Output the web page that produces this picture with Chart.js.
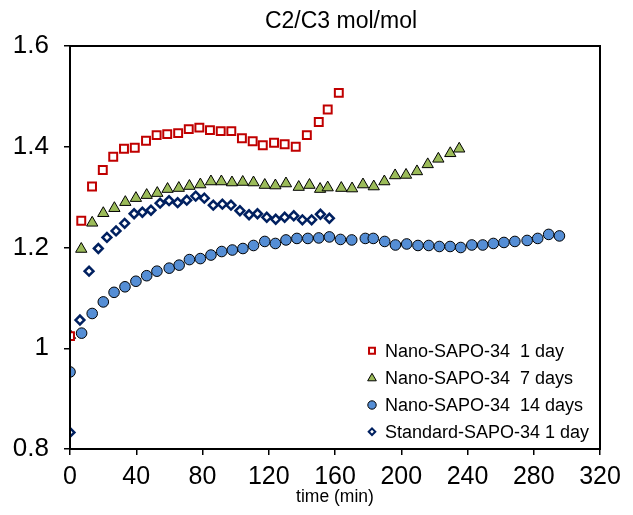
<!DOCTYPE html>
<html>
<head>
<meta charset="utf-8">
<script src="https://cdn.jsdelivr.net/npm/chart.js@4.4.1/dist/chart.umd.min.js"></script>
<style>
  html, body { margin: 0; padding: 0; background: #ffffff; }
  #wrap { width: 633px; height: 515px; position: relative; }
</style>
</head>
<body>
<div id="wrap"><canvas id="c" width="633" height="515"></canvas></div>
<script>
// ---- data ----
const chartTitle = "C2/C3 mol/mol";
const xAxisTitle = "time (min)";
const xTicks = [0, 40, 80, 120, 160, 200, 240, 280, 320];
const yTicks = [0.8, 1.0, 1.2, 1.4, 1.6];

const seriesNames = [
  "Nano-SAPO-34  1 day",
  "Nano-SAPO-34  7 days",
  "Nano-SAPO-34  14 days",
  "Standard-SAPO-34 1 day"
];

const nano1Time = [0, 6.8, 13.3, 19.8, 26.1, 32.6, 39.1, 45.9, 52.3, 58.7, 65.3, 71.7, 78.1, 84.5, 91.0, 97.4, 103.8, 110.3, 116.4, 123.2, 129.6, 136.3, 143.0, 150.2, 155.6, 162.3];
const nano1Value = [1.024, 1.253, 1.321, 1.354, 1.380, 1.396, 1.398, 1.412, 1.423, 1.425, 1.427, 1.435, 1.438, 1.433, 1.431, 1.431, 1.417, 1.411, 1.403, 1.408, 1.405, 1.400, 1.423, 1.449, 1.474, 1.507];

const nano7Time = [0, 6.8, 13.4, 20.1, 26.8, 33.4, 39.8, 46.3, 52.7, 58.9, 65.7, 72.1, 78.7, 85.1, 91.4, 97.8, 104.3, 110.8, 117.6, 124.0, 130.4, 138.1, 144.6, 151.0, 155.6, 163.8, 170.3, 176.9, 183.4, 189.8, 196.3, 202.9, 209.5, 216.0, 222.4, 229.6, 235.0];
const nano7Value = [1.026, 1.197, 1.249, 1.268, 1.278, 1.290, 1.298, 1.304, 1.308, 1.316, 1.318, 1.322, 1.325, 1.331, 1.331, 1.329, 1.330, 1.329, 1.324, 1.323, 1.327, 1.320, 1.324, 1.316, 1.319, 1.318, 1.317, 1.325, 1.321, 1.331, 1.343, 1.344, 1.351, 1.365, 1.376, 1.387, 1.396];

const nano14Time = [0, 7.0, 13.4, 20.1, 26.6, 33.2, 39.8, 46.3, 52.5, 59.9, 65.9, 72.1, 78.7, 85.1, 91.6, 98.0, 104.4, 110.8, 117.6, 124.0, 130.4, 137.0, 143.6, 150.2, 156.6, 163.3, 170.1, 178.3, 183.1, 190.0, 196.5, 203.3, 210.1, 216.6, 223.0, 229.5, 235.9, 242.6, 249.2, 255.6, 262.0, 268.6, 276.0, 282.4, 289.0, 295.5];
const nano14Value = [0.953, 1.030, 1.069, 1.092, 1.111, 1.122, 1.133, 1.144, 1.153, 1.159, 1.165, 1.176, 1.178, 1.185, 1.192, 1.195, 1.198, 1.204, 1.212, 1.208, 1.215, 1.218, 1.218, 1.219, 1.221, 1.216, 1.215, 1.218, 1.218, 1.212, 1.205, 1.207, 1.204, 1.204, 1.202, 1.202, 1.200, 1.205, 1.205, 1.208, 1.210, 1.212, 1.214, 1.218, 1.226, 1.223];

const stdTime = [0, 6.0, 11.5, 17.1, 22.3, 27.8, 33.0, 38.7, 43.7, 48.9, 54.4, 59.8, 65.0, 70.5, 75.9, 81.1, 86.5, 92.0, 97.2, 102.6, 108.1, 113.2, 118.8, 124.2, 129.6, 135.1, 140.3, 145.9, 151.2, 156.6];
const stdValue = [0.833, 1.056, 1.153, 1.198, 1.220, 1.233, 1.248, 1.267, 1.270, 1.274, 1.288, 1.293, 1.289, 1.294, 1.302, 1.298, 1.284, 1.286, 1.284, 1.273, 1.265, 1.267, 1.260, 1.256, 1.260, 1.263, 1.255, 1.255, 1.266, 1.258];

// ---- build ----
const FONT = "'Liberation Sans', Arial, Helvetica, sans-serif";
function pts(t, v) { return t.map((x, i) => ({ x: x, y: v[i] })); }

const styles = [
  { pointStyle: 'rect', radius: 5.6, borderWidth: 2, borderColor: '#C00000', backgroundColor: '#FFFFFF', lr: 4.2, lbw: 2 },
  { pointStyle: 'triangle', radius: 6.5, borderWidth: 1, borderColor: '#000000', backgroundColor: '#9BBB59', lr: 5, lbw: 1 },
  { pointStyle: 'circle', radius: 5.3, borderWidth: 1, borderColor: '#000000', backgroundColor: '#558ED5', lr: 4.2, lbw: 1 },
  { pointStyle: 'rectRot', radius: 4.4, borderWidth: 2.5, borderColor: '#002060', backgroundColor: '#FFFFFF', lr: 3.3, lbw: 2 }
];
const seriesData = [pts(nano1Time, nano1Value), pts(nano7Time, nano7Value), pts(nano14Time, nano14Value), pts(stdTime, stdValue)];

const datasets = seriesData.map((d, i) => ({
  label: seriesNames[i],
  data: d,
  showLine: false,
  pointStyle: styles[i].pointStyle,
  pointRadius: styles[i].radius,
  pointHoverRadius: styles[i].radius,
  pointBorderWidth: styles[i].borderWidth,
  pointBorderColor: styles[i].borderColor,
  pointBackgroundColor: styles[i].backgroundColor,
  borderColor: styles[i].borderColor,
  backgroundColor: styles[i].backgroundColor
}));

const framePlugin = {
  id: 'frame',
  afterDraw(chart) {
    const a = chart.chartArea, ctx = chart.ctx;
    ctx.save();
    ctx.strokeStyle = '#000';
    ctx.lineWidth = 2;
    ctx.strokeRect(a.left, a.top, a.right - a.left, a.bottom - a.top);
    // title
    ctx.fillStyle = '#000';
    ctx.font = '23px ' + FONT;
    ctx.textAlign = 'center';
    ctx.textBaseline = 'middle';
    ctx.fillText(chartTitle, 341, 22);
    // legend inside plot
    const lx = 372, tx = 385;
    const ly = [350.7, 378.3, 405, 431.7];
    ctx.font = '18px ' + FONT;
    ctx.textAlign = 'left';
    seriesNames.forEach((name, i) => {
      const s = styles[i];
      ctx.fillStyle = s.backgroundColor;
      ctx.strokeStyle = s.borderColor;
      ctx.lineWidth = s.lbw;
      Chart.helpers.drawPoint(ctx, { pointStyle: s.pointStyle, radius: s.lr, rotation: 0, borderWidth: s.lbw }, lx, ly[i]);
      ctx.fillStyle = '#000';
      ctx.fillText(name, tx, ly[i] + 1);
    });
    ctx.restore();
  }
};

new Chart(document.getElementById('c'), {
  type: 'scatter',
  data: { datasets: datasets },
  options: {
    responsive: false,
    animation: false,
    layout: { padding: { top: 46, right: 33, left: 0, bottom: 0 } },
    plugins: { legend: { display: false }, tooltip: { enabled: false }, title: { display: false } },
    scales: {
      x: {
        type: 'linear', min: xTicks[0], max: xTicks[xTicks.length - 1],
        afterBuildTicks(scale) { scale.ticks = xTicks.map(v => ({ value: v })); },
        afterFit(scale) { scale.height = 66; },
        ticks: { color: '#000', font: { size: 25, family: FONT }, padding: 7, maxRotation: 0, autoSkip: false },
        grid: { drawOnChartArea: false, tickLength: 6, color: '#000', lineWidth: 1.5 },
        border: { display: true, color: '#000', width: 2 },
        title: { display: true, text: xAxisTitle, color: '#000', font: { size: 17.5, family: FONT }, padding: { top: 2, bottom: 7 } }
      },
      y: {
        type: 'linear', min: yTicks[0], max: yTicks[yTicks.length - 1],
        afterBuildTicks(scale) { scale.ticks = yTicks.map(v => ({ value: v })); },
        afterFit(scale) { scale.width = 70; },
        ticks: { color: '#000', font: { size: 26, family: FONT }, padding: 15,
          callback: v => String(Math.round(v * 10) / 10) },
        grid: { drawOnChartArea: false, tickLength: 6, color: '#000', lineWidth: 1.5 },
        border: { display: true, color: '#000', width: 2 }
      }
    }
  },
  plugins: [framePlugin]
});
</script>
</body>
</html>
